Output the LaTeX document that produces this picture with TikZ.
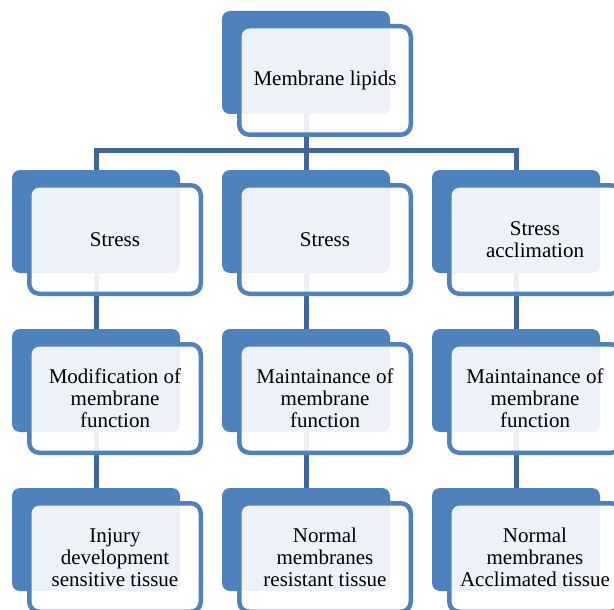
\documentclass[tikz,border=0pt]{standalone}
\usepackage{fontspec}
\setmainfont{Liberation Serif}
\definecolor{accent}{HTML}{4F81BD}
\definecolor{linkc}{HTML}{41679A}
\tikzset{
  backbox/.style={fill=accent, draw=none, rounded corners=8pt},
  frontbox/.style={fill=white, fill opacity=0.9, draw=accent, draw opacity=1, line width=4.5pt, rounded corners=10pt},
  boxtext/.style={align=center, inner sep=0pt, text opacity=1, font=\fontsize{21}{22}\selectfont},
  link/.style={draw=linkc, line width=5pt},
}
\begin{document}
\begin{tikzpicture}[x=1pt,y=-1pt]
\useasboundingbox (0,0) rectangle (614,610);
% connectors (behind)
\coordinate (top) at (306,62);
\coordinate (busL) at (96,151);
\coordinate (busM) at (306,151);
\coordinate (busR) at (516,151);
\coordinate (e1) at (96,540);
\coordinate (e2) at (306,540);
\coordinate (e3) at (516,540);
\draw[link] (top) -- (busM);
\draw[link, line cap=rect] (busL) -- (busR);
\draw[link] (busL) -- (e1);
\draw[link] (busM) -- (e2);
\draw[link] (busR) -- (e3);
% boxes
\foreach \bx/\by/\name/\txt in {
  222/11/n0/{Membrane lipids},
  12/170/a1/{Stress},
  222/170/b1/{Stress},
  432/170/c1/{Stress\\acclimation},
  12/329/a2/{Modification of\\membrane\\function},
  222/329/b2/{Maintainance of\\membrane\\function},
  432/329/c2/{Maintainance of\\membrane\\function},
  12/488/a3/{Injury\\development\\sensitive tissue},
  222/488/b3/{Normal\\membranes\\resistant tissue},
  432/488/c3/{Normal\\membranes\\Acclimated tissue}} {
  \path[backbox] (\bx,\by) rectangle ++(168,103);
  \path[frontbox] (\bx+17.25,\by+15.25) rectangle ++(171.5,108.5);
  \node[boxtext] (\name) at (\bx+103,\by+69.5) {\txt};
}
\end{tikzpicture}
\end{document}
